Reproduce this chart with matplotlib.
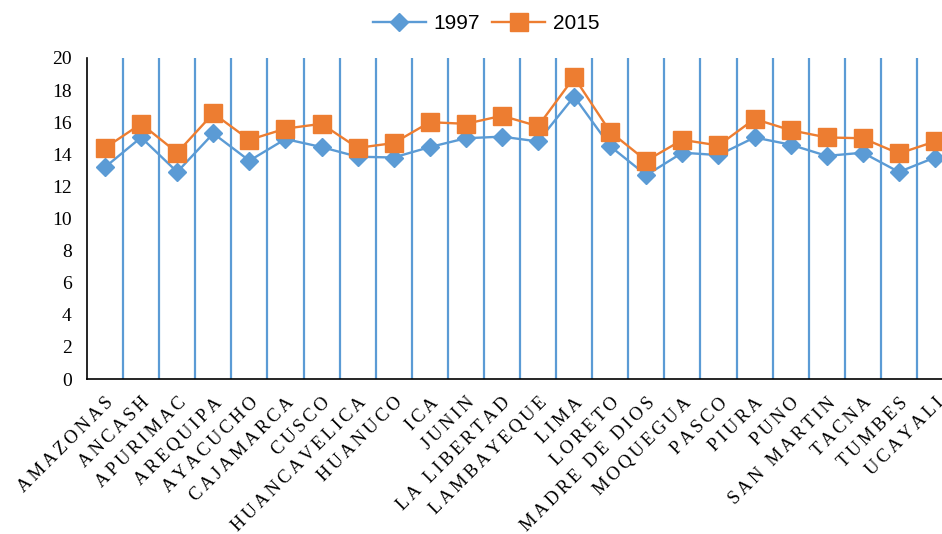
import numpy as np
import matplotlib.pyplot as plt

regions = ['AMAZONAS', 'ANCASH', 'APURIMAC', 'AREQUIPA', 'AYACUCHO', 'CAJAMARCA',
           'CUSCO', 'HUANCAVELICA', 'HUANUCO', 'ICA', 'JUNIN', 'LA LIBERTAD',
           'LAMBAYEQUE', 'LIMA', 'LORETO', 'MADRE DE DIOS', 'MOQUEGUA', 'PASCO',
           'PIURA', 'PUNO', 'SAN MARTIN', 'TACNA', 'TUMBES', 'UCAYALI']
y1997 = [13.2, 15.05, 12.9, 15.3, 13.6, 14.95, 14.45, 13.85, 13.8, 14.45, 15.0, 15.1,
         14.8, 17.6, 14.5, 12.7, 14.1, 13.95, 15.05, 14.6, 13.9, 14.1, 12.9, 13.8]
y2015 = [14.4, 15.9, 14.1, 16.55, 14.9, 15.6, 15.9, 14.4, 14.7, 16.0, 15.9, 16.4,
         15.75, 18.8, 15.4, 13.6, 14.9, 14.55, 16.2, 15.5, 15.05, 15.0, 14.05, 14.8]
yticks = np.arange(0, 21, 2)

blue = '#5B9BD5'
orange = '#ED7D31'

def spaced(s):
    # wide letter spacing like the original labels
    return '\u2006'.join(s)

fig = plt.figure(figsize=(9.42, 5.34), dpi=100)
ax = fig.add_axes([87/942, 1 - 379/534, 866/942, 321/534])

x = np.arange(len(regions))
ax.plot(x, y1997, color=blue, lw=1.7, marker='D', ms=9.2, label='1997', zorder=3)
ax.plot(x, y2015, color=orange, lw=1.7, marker='s', ms=12.5, label='2015', zorder=4)

ax.set_xlim(-0.5, len(regions) - 0.5)
ax.set_ylim(0, 20)
ax.set_yticks(yticks)
ax.set_yticklabels([str(v) for v in yticks], family='Liberation Serif', fontsize=14)

ax.set_xticks(x)
ax.set_xticklabels([spaced(r) for r in regions], family=['Liberation Serif', 'DejaVu Serif'],
                   fontsize=13.3, rotation=45, ha='right', rotation_mode='anchor')
ax.set_xticks(np.arange(0.5, len(regions) - 1), minor=True)
ax.grid(which='minor', axis='x', color=blue, lw=1.6)
ax.tick_params(axis='both', which='both', length=0)
ax.tick_params(axis='y', pad=11)
ax.tick_params(axis='x', pad=11)

for s in ['top', 'right']:
    ax.spines[s].set_visible(False)
for s in ['left', 'bottom']:
    ax.spines[s].set_color('black')
    ax.spines[s].set_linewidth(1.2)

fig.legend(loc='upper center', bbox_to_anchor=(0.516, 1.008), ncol=2, frameon=False,
           prop={'family': 'Liberation Sans', 'size': 15}, handlelength=2.55,
           columnspacing=0.6, handletextpad=0.35)

fig.savefig('out.png', dpi=100)
